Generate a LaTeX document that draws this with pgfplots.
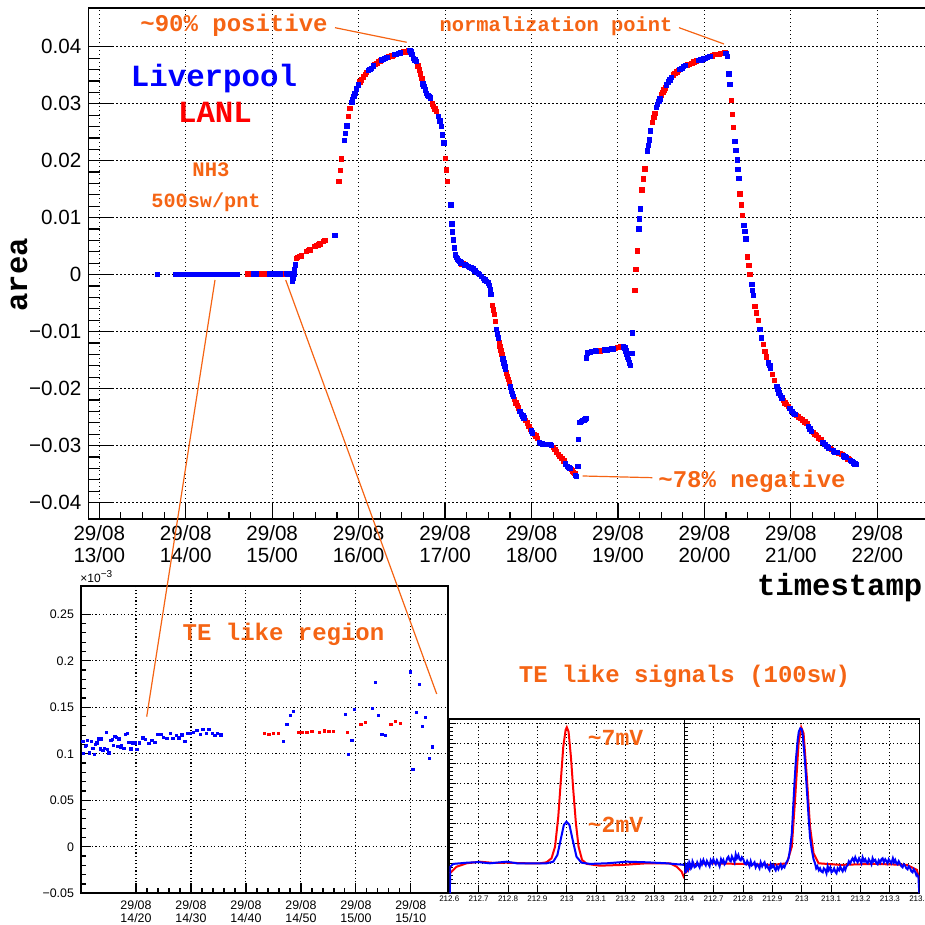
\documentclass[border=0pt]{standalone}
\usepackage{fontspec}
\setmainfont{Liberation Sans}
\newfontfamily\cour{Liberation Mono}
\usepackage{pgfplots}
\pgfplotsset{compat=1.18}
\definecolor{orng}{RGB}{245,100,20}
\begin{document}
\begin{tikzpicture}
\useasboundingbox (0pt,0pt) rectangle (462.5pt,462.5pt);
\pgfplotsset{
  mainframe/.style={at={(44.15pt,203pt)}, anchor=south west, scale only axis,
    width=418.85pt, height=255.5pt,
    xmin=12.873, xmax=22.563, ymin=-0.04286, ymax=0.04679},
}
% ---------------- main axis -----------------
\begin{axis}[mainframe,
  axis line style={line width=0.6pt},
  tick style={black, line width=0.6pt},
  major tick length=8pt, minor tick length=3.5pt,
  xtick pos=bottom, ytick pos=left,
  xtick={13,14,15,16,17,18,19,20,21,22},
  xticklabels={{29/08\\13/00},{29/08\\14/00},{29/08\\15/00},{29/08\\16/00},{29/08\\17/00},{29/08\\18/00},{29/08\\19/00},{29/08\\20/00},{29/08\\21/00},{29/08\\22/00}},
  minor x tick num=3,
  ytick={-0.04,-0.03,-0.02,-0.01,0,0.01,0.02,0.03,0.04},
  yticklabels={−0.04,−0.03,−0.02,−0.01,0,0.01,0.02,0.03,0.04},
  minor y tick num=4,
  x tick label style={align=center, font=\fontsize{10.3}{11}\selectfont},
  y tick label style={font=\fontsize{10.3}{11}\selectfont},
  grid=major,
  major grid style={black, line width=0.5pt, dash pattern=on 0.6pt off 1.4pt},
]
\addplot[only marks, mark=square*, mark size=1.1pt, red] coordinates {
(14.71,0.00012)(14.73,0.00012)(14.75,0.00012)(14.77,0.00012)(14.79,0.00012)(14.81,0.00012)(14.83,0.00012)(14.85,0.00012)(14.87,0.00012)(14.89,0.00012)(14.91,0.00012)(14.93,0.00012)(14.95,0.00012)(14.97,0.00012)(14.99,0.00012)(15.01,0.00012)(15.03,0.00012)(15.05,0.00012)(15.07,0.00012)(15.09,0.00012)(15.11,0.00012)(15.13,0.00012)(15.15,0.00012)(15.17,0.00012)
(15.283,0.0029)(15.295,0.00303)(15.322,0.00321)(15.341,0.00333)(15.399,0.00408)(15.418,0.00426)(15.437,0.00438)(15.495,0.00496)(15.515,0.00513)(15.533,0.00526)(15.553,0.00543)(15.591,0.00583)(15.611,0.00601)
(15.773,0.01635)(15.786,0.01828)(15.804,0.0203)
(15.88,0.02774)(15.9,0.0292)
(16.015,0.0338)(16.035,0.0342)(16.055,0.0347)(16.075,0.0351)(16.093,0.03545)
(16.19,0.0369)(16.209,0.0371)(16.23,0.0374)(16.25,0.0375)
(16.345,0.0382)(16.363,0.03825)(16.385,0.0384)(16.405,0.0385)
(16.5,0.0390)(16.52,0.0391)(16.536,0.0391)(16.555,0.0392)(16.575,0.0393)
(16.685,0.0366)(16.70,0.0359)(16.715,0.0352)(16.73,0.03446)
(16.85,0.0300)(16.864,0.0295)(16.88,0.0291)(16.90,0.0286)
(17.007,0.0204)(17.018,0.0184)(17.03,0.01635)
(17.195,0.0019)(17.204,0.00187)(17.215,0.0018)
(17.55,-0.00543)(17.56,-0.0062)(17.57,-0.007)(17.58,-0.0082)
(17.625,-0.0119)(17.635,-0.01256)(17.645,-0.0133)(17.655,-0.014)
(17.712,-0.0172)(17.724,-0.0178)(17.733,-0.0184)(17.743,-0.019)
(17.805,-0.0219)(17.82,-0.0225)(17.833,-0.0229)(17.847,-0.02336)
(17.93,-0.0256)(17.951,-0.026)(17.97,-0.0266)(17.99,-0.02716)
(18.03,-0.028)(18.05,-0.0283)(18.07,-0.0287)
(18.25,-0.0303)(18.271,-0.03067)(18.29,-0.0311)(18.31,-0.0315)(18.329,-0.03184)(18.35,-0.0322)(18.375,-0.0327)
(18.46,-0.0342)(18.47,-0.0344)(18.483,-0.03464)(18.50,-0.0349)
(18.772,-0.01344)(18.79,-0.0134)(18.81,-0.0133)(18.83,-0.0133)
(18.89,-0.0131)(18.91,-0.0131)
(18.97,-0.0129)(18.99,-0.0128)(19.01,-0.0128)(19.03,-0.0127)(19.043,-0.01274)
(19.197,-0.0028)(19.208,0.00088)(19.223,0.0042)
(19.278,0.0149)(19.294,0.0168)(19.31,0.01857)
(19.401,0.02669)(19.416,0.02756)(19.428,0.02833)
(19.505,0.03154)(19.52,0.0320)(19.532,0.0324)(19.545,0.0328)
(19.64,0.03504)(19.66,0.0353)(19.68,0.0356)(19.698,0.0358)
(19.8,0.0368)(19.825,0.0369)(19.853,0.0371)(19.88,0.0373)(19.91,0.0375)
(20.09,0.0384)(20.115,0.0386)(20.142,0.03867)(20.165,0.0387)(20.19,0.0388)(20.218,0.03885)(20.235,0.0389)
(20.315,0.03054)(20.326,0.02816)(20.338,0.0258)
(20.411,0.0142)(20.43,0.01227)(20.442,0.01039)
(20.50,0.0031)(20.515,0.00158)(20.527,0.0)
(20.585,-0.00555)(20.604,-0.0067)(20.623,-0.008)
(20.68,-0.01227)(20.70,-0.01344)(20.72,-0.01442)
(20.785,-0.01752)(20.808,-0.01857)
(20.912,-0.0221)(20.932,-0.0225)(20.95,-0.0228)(20.97,-0.02308)
(21.066,-0.0247)(21.086,-0.02494)(21.11,-0.0252)(21.135,-0.0255)(21.16,-0.0258)(21.183,-0.02611)
(21.26,-0.0277)(21.28,-0.0280)(21.298,-0.0282)(21.32,-0.0286)(21.345,-0.02891)
(21.452,-0.0305)(21.472,-0.03066)
(21.55,-0.0313)(21.568,-0.03137)(21.59,-0.0315)
(21.66,-0.0323)(21.676,-0.03242)
};
\addplot[only marks, mark=square*, mark size=1.1pt, blue] coordinates {
(13.675,0.0001)
(13.88,0.0001)(13.90,0.0001)(13.92,0.0001)(13.94,0.0001)(13.96,0.0001)(13.98,0.0001)(14.00,0.0001)(14.02,0.0001)(14.04,0.0001)(14.06,0.0001)(14.08,0.0001)(14.10,0.0001)(14.12,0.0001)(14.14,0.0001)(14.16,0.0001)(14.18,0.0001)(14.20,0.0001)(14.22,0.0001)(14.24,0.0001)(14.26,0.0001)(14.28,0.0001)(14.30,0.0001)(14.32,0.0001)(14.34,0.0001)(14.36,0.0001)(14.38,0.0001)(14.40,0.0001)(14.42,0.0001)(14.44,0.0001)(14.46,0.0001)(14.48,0.0001)(14.50,0.0001)(14.52,0.0001)(14.54,0.0001)(14.56,0.0001)(14.58,0.0001)(14.60,0.0001)
(14.785,0.00011)(14.795,0.00013)(14.805,0.00014)(14.81,0.00015)
(14.97,0.00014)(14.98,0.0001)(14.99,0.00011)(15.0,0.00015)
(15.05,0.00015)(15.06,0.00018)(15.07,0.00014)(15.08,0.00012)(15.09,0.00012)
(15.165,0.00019)(15.175,0.00008)(15.185,0.00014)(15.195,0.00017)(15.205,0.00013)(15.215,0.00014)(15.225,0.0001)
(15.232,-0.0004)(15.237,-0.0012)(15.245,-0.0006)(15.252,0.0)(15.26,0.0009)(15.268,0.0017)
(15.726,0.0069)
(15.834,0.02353)(15.848,0.0248)(15.862,0.0261)
(15.92,0.0302)(15.931,0.03066)(15.945,0.0313)(15.958,0.0318)(15.975,0.0326)(15.996,0.0333)
(16.11,0.0358)(16.13,0.0360)(16.151,0.0362)(16.17,0.0366)
(16.265,0.0377)(16.285,0.0378)(16.305,0.0380)(16.325,0.0381)
(16.42,0.0386)(16.44,0.03867)(16.46,0.0388)(16.48,0.0389)
(16.594,0.0394)(16.605,0.0391)(16.615,0.0387)(16.633,0.0380)(16.65,0.0377)(16.671,0.0374)
(16.745,0.0335)(16.756,0.033)(16.77,0.0324)(16.787,0.0318)(16.80,0.0315)(16.815,0.0313)(16.833,0.0310)
(16.92,0.0278)(16.941,0.027)(16.955,0.026)(16.97,0.0245)(16.987,0.0231)
(17.068,0.01227)(17.08,0.00894)(17.088,0.00748)(17.095,0.0061)(17.106,0.00468)(17.118,0.0035)(17.13,0.0030)(17.14,0.00275)(17.155,0.0025)(17.17,0.00233)(17.185,0.0021)
(17.23,0.0017)(17.25,0.0016)(17.268,0.00146)(17.285,0.0013)(17.305,0.0012)(17.326,0.001)(17.345,0.0007)(17.365,0.0004)(17.384,0.00018)(17.40,0.0)(17.42,-0.0003)(17.442,-0.0006)(17.46,-0.0009)(17.48,-0.0012)(17.50,-0.00146)(17.515,-0.0019)(17.522,-0.00263)(17.531,-0.0035)
(17.597,-0.00964)(17.606,-0.0104)(17.615,-0.0111)
(17.668,-0.0148)(17.681,-0.01548)(17.69,-0.0161)(17.70,-0.01665)
(17.757,-0.0197)(17.77,-0.02044)(17.78,-0.0209)(17.789,-0.0213)
(17.865,-0.0240)(17.886,-0.02453)(17.9,-0.0248)(17.913,-0.0251)
(18.0,-0.0274)(18.013,-0.02774)
(18.09,-0.0294)(18.106,-0.0296)(18.125,-0.0297)(18.145,-0.0298)(18.167,-0.0298)(18.19,-0.0298)(18.213,-0.0298)(18.23,-0.0300)
(18.395,-0.0332)(18.414,-0.0336)(18.43,-0.0338)(18.445,-0.034)
(18.51,-0.0352)(18.522,-0.03534)
(18.534,-0.0336)(18.545,-0.0289)
(18.56,-0.02588)(18.575,-0.0257)(18.59,-0.0256)(18.61,-0.0255)(18.625,-0.0254)(18.63,-0.0252)
(18.638,-0.0146)(18.645,-0.01372)(18.66,-0.0136)(18.68,-0.0136)(18.70,-0.0135)(18.72,-0.0135)(18.74,-0.0134)(18.753,-0.01344)
(18.85,-0.0132)(18.87,-0.0132)
(18.93,-0.0130)(18.95,-0.0130)
(19.06,-0.0127)(19.081,-0.01284)(19.09,-0.0134)(19.10,-0.014)(19.11,-0.0145)(19.12,-0.0149)(19.135,-0.0155)(19.147,-0.01594)(19.159,-0.01384)(19.17,-0.0102)
(19.243,0.008)(19.25,0.0098)(19.26,0.01157)
(19.339,0.0217)(19.35,0.02266)(19.362,0.02366)(19.374,0.02523)
(19.445,0.0293)(19.459,0.0299)(19.472,0.0304)(19.486,0.03084)
(19.563,0.0333)(19.58,0.0338)(19.60,0.03417)(19.62,0.0346)
(19.717,0.0360)(19.737,0.0362)(19.757,0.0365)(19.777,0.0367)
(19.935,0.0376)(19.96,0.0377)(19.987,0.03785)(20.01,0.0380)(20.037,0.0381)(20.064,0.03825)
(20.25,0.0388)(20.269,0.03825)(20.284,0.03522)(20.296,0.0334)
(20.354,0.02336)(20.366,0.02178)(20.378,0.02015)(20.389,0.01852)(20.40,0.01694)
(20.458,0.00864)(20.466,0.00759)(20.48,0.0063)
(20.547,-0.00175)(20.558,-0.00275)(20.565,-0.00368)
(20.643,-0.00964)(20.662,-0.0111)
(20.739,-0.01548)(20.755,-0.0159)(20.762,-0.01635)
(20.836,-0.01957)(20.85,-0.0201)(20.862,-0.02073)(20.878,-0.0212)(20.894,-0.0216)
(20.99,-0.0235)(21.01,-0.02395)(21.03,-0.0243)(21.048,-0.02453)
(21.2,-0.0266)(21.22,-0.02704)(21.24,-0.02745)
(21.37,-0.0294)(21.394,-0.02979)(21.415,-0.0301)(21.433,-0.03037)
(21.49,-0.0309)(21.51,-0.03114)(21.53,-0.0312)
(21.61,-0.0318)(21.626,-0.032)(21.645,-0.0321)
(21.69,-0.0326)(21.705,-0.0328)(21.722,-0.033)(21.74,-0.0332)(21.753,-0.0333)
};
\end{axis}
% overlay for long y ticks (no labels)
\begin{axis}[mainframe,
  axis x line=none, axis y line*=left,
  axis line style={line width=0.6pt},
  tick style={black, line width=0.6pt},
  major tick length=13pt, minor tick length=6pt,
  xtick=\empty, xticklabels={},
  ytick pos=left,
  ytick={-0.04,-0.03,-0.02,-0.01,0,0.01,0.02,0.03,0.04},
  minor y tick num=4,
  yticklabels={{},{},{},{},{},{},{},{},{}},
]
\addplot[draw=none] coordinates {(13,0)};
\end{axis}

% --------------- inset: TE like region ---------------
\begin{axis}[at={(40.5pt,15.85pt)}, anchor=south west, scale only axis,
  width=183.35pt, height=153.65pt,
  xmin=10, xmax=76.7, ymin=-0.05, ymax=0.2804,
  axis background/.style={fill=white},
  axis line style={line width=0.8pt},
  tick style={black, line width=0.6pt},
  major tick length=5pt, minor tick length=2.5pt,
  xtick pos=bottom, ytick pos=left,
  xtick={20,30,40,50,60,70},
  xticklabels={{29/08\\14/20},{29/08\\14/30},{29/08\\14/40},{29/08\\14/50},{29/08\\15/00},{29/08\\15/10}},
  minor x tick num=4,
  ytick={-0.05,0,0.05,0.1,0.15,0.2,0.25},
  yticklabels={−0.05,0,0.05,0.1,0.15,0.2,0.25},
  minor y tick num=4,
  x tick label style={align=center, font=\fontsize{6.2}{6.8}\selectfont},
  y tick label style={font=\fontsize{6.2}{6.8}\selectfont},
  grid=major,
  major grid style={black, line width=0.55pt, dash pattern=on 0.6pt off 1.2pt},
]
\addplot[only marks, mark=square*, mark size=0.55pt, red] coordinates {
(43.33,0.1216)(44.18,0.1212)(45.03,0.1216)(45.94,0.1223)
(49.58,0.1230)(50.18,0.1230)(51.09,0.1234)(52.0,0.1237)(53.39,0.1234)(54.24,0.1245)(55.09,0.1237)(55.94,0.1241)(58.48,0.1234)
(60.91,0.1320)(61.76,0.1334)
(66.36,0.1313)(67.15,0.1348)(68.06,0.1330)
};
\addplot[only marks, mark=square*, mark size=0.55pt, blue] coordinates {
(10.36,0.1134)(10.48,0.1001)(10.79,0.1080)(10.97,0.1087)(11.21,0.1141)(11.58,0.1009)(11.82,0.1137)(12.18,0.1062)(12.42,0.0991)(12.67,0.1098)
(12.91,0.1116)(13.21,0.1159)(13.52,0.1052)(13.76,0.1159)(14.0,0.1037)(14.24,0.1062)(14.61,0.1230)(14.73,0.1044)(15.09,0.1009)(15.45,0.1141)
(15.70,0.1152)(15.94,0.1091)(16.18,0.1187)(16.42,0.1177)(16.67,0.1080)(16.91,0.1159)(17.15,0.1073)(17.39,0.1087)(17.64,0.1062)(17.88,0.1062)
(18.12,0.1212)(18.42,0.1216)(18.73,0.1123)(19.09,0.1052)(19.45,0.1116)(19.82,0.1116)(20.18,0.1044)(20.67,0.1116)(21.27,0.1170)(21.76,0.1152)
(22.36,0.1109)(22.91,0.1141)(23.45,0.1123)(23.94,0.1205)(24.55,0.1209)(25.03,0.1180)(25.64,0.1166)(26.24,0.1216)(26.73,0.1162)(27.33,0.1195)
(27.82,0.1170)(28.36,0.1202)(28.91,0.1134)(29.39,0.1216)(29.88,0.1223)(30.48,0.1230)(31.09,0.1252)(31.70,0.1205)(32.18,0.1266)(32.79,0.1216)
(33.27,0.1259)(33.88,0.1216)(34.36,0.1198)(34.85,0.1223)(35.45,0.1202)
(46.85,0.1134)(47.45,0.1313)(48.06,0.1409)(48.67,0.1452)
(58.12,0.1427)(58.67,0.0991)(59.27,0.1144)(59.76,0.1474)
(63.03,0.1491)(63.58,0.1767)(64.12,0.1409)(64.73,0.1205)(65.33,0.1195)
(69.88,0.1881)(70.36,0.0830)(70.97,0.1445)(71.52,0.1742)(72.12,0.1291)(72.67,0.1391)(73.33,0.0948)(73.94,0.1073)
};
\end{axis}
\node[anchor=south west, inner sep=0pt, font=\fontsize{6}{6}\selectfont] at (40pt,171pt) {×10\textsuperscript{−3}};

% --------------- signal panels ---------------
\pgfplotsset{
  sigpanel/.style={anchor=south west, scale only axis,
    width=117.5pt, height=87pt,
    xmin=212.6, xmax=213.4, ymin=0.5, ymax=9.2,
    axis background/.style={fill=white},
    axis line style={line width=0.8pt},
    tick style={black, line width=0.5pt},
    major tick length=3.5pt, minor tick length=2pt,
    xtick pos=bottom, ytick pos=left,
    xtick={212.6,212.7,212.8,212.9,213,213.1,213.2,213.3,213.4},
    ytick={1,2,3,4,5,6,7,8,9},
    yticklabels={{},{},{},{},{},{},{},{},{}},
    minor y tick num=4,
    x tick label style={font=\fontsize{4}{4}\selectfont, inner sep=1pt},
    grid=major,
    major grid style={black, line width=0.5pt, dash pattern=on 0.6pt off 1.2pt},
  }
}
\begin{axis}[sigpanel, at={(224.65pt,15.85pt)},
  xticklabels={212.6,212.7,212.8,212.9,213,213.1,213.2,213.3,213.4}]
\addplot[red, line width=1pt] coordinates {
(212.602,1.5)(212.625,1.83)(212.659,2.0)(212.704,2.08)(212.75,2.02)(212.795,2.03)(212.863,2.0)(212.909,2.0)(212.931,2.05)(212.948,2.25)(212.96,2.83)(212.971,4.33)(212.979,6.0)(212.988,7.83)(212.996,8.67)(213.0,8.8)(213.006,8.58)(213.014,7.33)(213.022,5.67)(213.031,4.0)(213.04,2.83)(213.052,2.17)(213.068,1.97)(213.113,1.88)(213.192,1.92)(213.272,2.0)(213.351,2.0)(213.374,1.83)(213.391,1.58)(213.4,1.25)
};
\addplot[blue, line width=1pt] coordinates {
(212.602,0.5)(212.603,1.83)(212.614,1.97)(212.659,2.03)(212.7,2.06)(212.738,2.0)(212.795,2.08)(212.83,2.0)(212.863,2.0)(212.931,2.0)(212.954,2.08)(212.968,2.42)(212.979,3.17)(212.99,3.92)(212.999,4.08)(213.009,3.92)(213.02,3.17)(213.033,2.33)(213.05,2.03)(213.079,1.97)(213.136,2.0)(213.204,2.08)(213.272,2.05)(213.34,2.0)(213.4,1.92)
};
\end{axis}
\begin{axis}[sigpanel, at={(342.15pt,15.85pt)},
  xticklabels={{},212.7,212.8,212.9,213,213.1,213.2,213.3,213.4}]
\addplot[red, line width=1pt] coordinates {
(212.602,1.5)(212.631,1.92)(212.676,2.0)(212.79,1.97)(212.903,1.92)(212.949,2.0)(212.966,2.83)(212.977,5.17)(212.989,8.0)(212.998,8.8)(213.006,8.5)(213.017,6.33)(213.028,3.83)(213.04,2.5)(213.057,2.0)(213.131,1.92)(213.244,1.97)(213.358,1.92)(213.392,1.67)(213.4,1.17)
};
\addplot[blue, line width=1pt] coordinates {
(212.602,1.5)(212.605,1.85)(212.608,1.7)(212.611,1.9)(212.614,1.75)(212.617,2.05)(212.62,1.95)(212.623,1.75)(212.625,1.8)(212.628,2.1)(212.631,2.0)(212.635,1.8)(212.64,1.85)(212.644,2.05)(212.648,1.92)(212.652,1.8)(212.656,2.1)(212.66,1.95)(212.665,2.17)(212.669,2.0)(212.673,1.9)(212.677,2.12)(212.682,1.97)(212.686,1.85)(212.69,2.15)(212.695,2.0)(212.699,2.2)(212.703,2.05)(212.707,1.95)(212.711,2.15)(212.716,2.0)(212.72,1.85)(212.725,2.2)(212.729,2.05)(212.733,2.17)(212.737,1.95)(212.742,2.05)(212.746,2.25)(212.75,2.33)(212.754,2.15)(212.758,2.1)(212.762,2.35)(212.767,2.2)(212.771,2.05)(212.775,2.45)(212.779,2.25)(212.784,2.42)(212.788,2.2)(212.792,2.15)(212.796,2.3)(212.801,2.2)(212.805,2.0)(212.81,1.95)(212.814,2.12)(212.818,2.0)(212.822,1.85)(212.826,2.1)(212.83,1.9)(212.835,1.97)(212.839,2.05)(212.843,1.8)(212.848,1.95)(212.852,1.87)(212.856,1.75)(212.86,2.05)(212.865,1.85)(212.869,1.97)(212.873,2.05)(212.877,1.8)(212.882,1.9)(212.886,1.75)(212.89,1.65)(212.894,1.95)(212.898,1.8)(212.903,1.92)(212.907,1.75)(212.911,1.65)(212.915,1.85)(212.92,1.7)(212.924,1.85)(212.928,1.95)(212.932,1.75)(212.937,1.87)(212.941,1.8)(212.946,2.0)(212.95,2.1)(212.955,2.25)(212.96,2.7)(212.966,3.5)(212.97,4.6)(212.975,6.0)(212.98,7.2)(212.986,8.17)(212.99,8.6)(212.995,8.75)(213.0,8.7)(213.003,8.42)(213.008,7.6)(213.012,6.83)(213.018,5.5)(213.023,4.33)(213.028,3.3)(213.034,2.67)(213.04,2.2)(213.045,2.0)(213.049,1.75)(213.053,1.85)(213.058,1.65)(213.062,1.75)(213.066,1.6)(213.071,1.55)(213.075,1.75)(213.08,1.67)(213.084,1.5)(213.088,1.85)(213.092,1.65)(213.097,1.8)(213.101,1.55)(213.105,1.6)(213.11,1.75)(213.114,1.58)(213.118,1.5)(213.122,1.75)(213.127,1.65)(213.131,1.83)(213.135,1.7)(213.139,1.6)(213.144,1.8)(213.148,1.67)(213.152,1.85)(213.156,1.9)(213.16,2.1)(213.165,2.0)(213.169,2.15)(213.173,2.25)(213.178,2.1)(213.182,2.3)(213.186,2.15)(213.19,2.05)(213.195,2.25)(213.199,2.13)(213.203,2.0)(213.207,2.3)(213.212,2.1)(213.216,2.2)(213.22,2.05)(213.224,2.0)(213.228,2.2)(213.233,2.08)(213.237,1.95)(213.241,2.25)(213.245,2.1)(213.25,2.17)(213.254,2.0)(213.258,1.95)(213.262,2.15)(213.267,2.03)(213.271,2.2)(213.275,2.25)(213.279,2.05)(213.284,2.2)(213.288,2.1)(213.292,2.0)(213.296,2.2)(213.301,2.08)(213.305,2.0)(213.31,2.25)(213.314,2.05)(213.318,2.17)(213.322,2.0)(213.326,1.95)(213.33,2.1)(213.335,1.97)(213.339,1.85)(213.343,1.8)(213.347,1.95)(213.352,1.87)(213.356,1.75)(213.36,1.7)(213.364,1.85)(213.369,1.75)(213.373,1.6)(213.377,1.55)(213.381,1.7)(213.386,1.58)(213.39,1.4)(213.392,1.45)(213.397,1.33)(213.4,0.5)
};
\end{axis}

% --------------- annotations ---------------
\begin{scope}[every node/.style={inner sep=0pt}]
\node[font=\cour\bfseries\fontsize{12}{12}\selectfont, text=orng] at (117pt,450pt) {\textasciitilde90\% positive};
\node[font=\cour\bfseries\fontsize{10.2}{10.2}\selectfont, text=orng] at (278pt,449.5pt) {normalization point};
\node[font=\cour\bfseries\fontsize{15.4}{15.4}\selectfont, text=blue] at (107pt,423pt) {Liverpool};
\node[font=\cour\bfseries\fontsize{15.4}{15.4}\selectfont, text=red] at (107.5pt,406.5pt) {LANL};
\node[font=\cour\bfseries\fontsize{10.3}{10.3}\selectfont, text=orng] at (105.5pt,377.5pt) {NH3};
\node[font=\cour\bfseries\fontsize{10.1}{10.1}\selectfont, text=orng] at (103pt,361.5pt) {500sw/pnt};
\node[font=\cour\bfseries\fontsize{12}{12}\selectfont, text=orng] at (376pt,222pt) {\textasciitilde78\% negative};
\node[font=\cour\bfseries\fontsize{15.3}{15.3}\selectfont, rotate=90] at (9.5pt,325pt) {area};
\node[font=\cour\bfseries\fontsize{15.3}{15.3}\selectfont] at (419.85pt,168.5pt) {timestamp};
\node[font=\cour\bfseries\fontsize{12}{12}\selectfont, text=orng] at (141.75pt,145.5pt) {TE like region};
\node[font=\cour\bfseries\fontsize{12}{12}\selectfont, text=orng] at (342.25pt,124.5pt) {TE like signals (100sw)};
\node[font=\cour\bfseries\fontsize{11.5}{11.5}\selectfont, text=orng] at (307.75pt,93.5pt) {\textasciitilde7mV};
\node[font=\cour\bfseries\fontsize{11.5}{11.5}\selectfont, text=orng] at (307.75pt,50pt) {\textasciitilde2mV};
\end{scope}
\draw[orng, line width=0.6pt] (167.5pt,448.65pt) -- (203.35pt,441.35pt);
\draw[orng, line width=0.6pt] (339.5pt,448.65pt) -- (362pt,440.5pt);
\draw[orng, line width=0.6pt] (291.35pt,224.5pt) -- (326.15pt,223.65pt);
\draw[orng, line width=0.6pt] (107.5pt,322.5pt) -- (73.35pt,104.15pt);
\draw[orng, line width=0.6pt] (142.85pt,322.5pt) -- (218.35pt,115.5pt);
\end{tikzpicture}
\end{document}
